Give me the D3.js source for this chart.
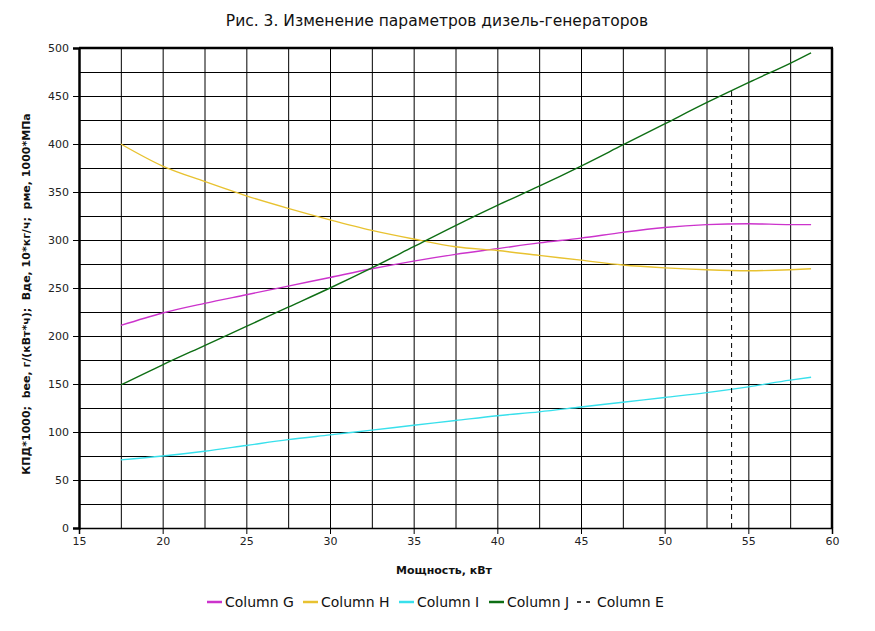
<!DOCTYPE html>
<html><head><meta charset="utf-8">
<script src="https://cdn.jsdelivr.net/npm/d3@7"></script>
<style>body{margin:0;background:#fff;}svg{display:block;font-family:"DejaVu Sans",sans-serif;}</style>
</head><body>
<svg id="chart" width="875" height="631"></svg>
<script>
const title = "Рис. 3. Изменение параметров дизель-генераторов";
const xLabel = "Мощность, кВт";
const yLabel = "КПД*1000;  bee, г/(кВт*ч);  Вде, 10*кг/ч;  рме, 1000*МПа";
const power = [17.5, 20, 22.5, 25, 27.5, 30, 32.5, 35, 37.5, 40, 42.5, 45, 47.5, 50, 52.5, 55, 57.5, 58.75];
const columnG = [211, 224, 234, 243, 252, 261, 270, 278, 285, 291, 297, 302, 308, 313, 316, 317, 316, 316];
const columnH = [400, 377, 361, 346, 333, 321, 310, 301, 293, 289, 284, 279, 274, 271, 269, 268, 269, 270];
const columnI = [71, 75, 80, 86, 92, 97, 102, 107, 112, 117, 121, 126, 131, 136, 141, 147, 154, 157];
const columnJ = [149, 170, 190, 210, 230, 250, 271, 293, 315, 336, 356, 377, 399, 421, 443, 464, 484, 495];
const columnE_x = [54, 54];
const columnE_y = [0, 455];
const xTicks = [15, 20, 25, 30, 35, 40, 45, 50, 55, 60];
const yTicks = [0, 50, 100, 150, 200, 250, 300, 350, 400, 450, 500];
const xGrid = [17.5, 20, 22.5, 25, 27.5, 30, 32.5, 35, 37.5, 40, 42.5, 45, 47.5, 50, 52.5, 55, 57.5];
const yGrid = [25, 50, 75, 100, 125, 150, 175, 200, 225, 250, 275, 300, 325, 350, 375, 400, 425, 450, 475];
const seriesNames = ["Column G", "Column H", "Column I", "Column J", "Column E"];
const seriesColors = ["#cc33cc", "#e8c230", "#38e0ec", "#0e6e14", "#000000"];

const svg = d3.select("#chart");
const L = 79, R = 832, T = 48, B = 528;
const x = d3.scaleLinear().domain([15, 60]).range([L, R]);
const y = d3.scaleLinear().domain([0, 500]).range([B, T]);

svg.append("text").attr("x", 437).attr("y", 26).attr("text-anchor", "middle")
  .attr("font-size", 15.5).attr("fill", "#111").text(title);

// grid
svg.append("g").selectAll("line").data(xGrid).join("line")
  .attr("x1", d => x(d) + 0.5).attr("x2", d => x(d) + 0.5).attr("y1", T).attr("y2", B)
  .attr("stroke", "#000").attr("stroke-width", 1);
svg.append("g").selectAll("line").data(yGrid).join("line")
  .attr("y1", d => Math.round(y(d)) + 0.5).attr("y2", d => Math.round(y(d)) + 0.5).attr("x1", L).attr("x2", R)
  .attr("stroke", "#000").attr("stroke-width", 1);

// axes
const xAxis = d3.axisBottom(x).tickValues(xTicks).tickSize(6).tickPadding(3);
const gx = svg.append("g").attr("transform", `translate(0,${B})`).call(xAxis);
const yAxis = d3.axisLeft(y).tickValues(yTicks).tickSize(6).tickPadding(4);
const gy = svg.append("g").attr("transform", `translate(${L},0)`).call(yAxis);
[gx, gy].forEach(g => {
  g.selectAll("text").attr("font-size", 11).attr("fill", "#222").attr("font-family", "DejaVu Sans");
  g.selectAll("line").attr("stroke", "#000");
  g.select(".domain").attr("stroke", "#000").attr("stroke-width", 1.5);
});
gy.select(".domain").attr("stroke-width", 2.5);
// frame top / right
svg.append("line").attr("x1", L).attr("x2", R + 1).attr("y1", T).attr("y2", T).attr("stroke", "#000").attr("stroke-width", 2.5);
svg.append("line").attr("x1", R).attr("x2", R).attr("y1", T).attr("y2", B).attr("stroke", "#000").attr("stroke-width", 2.5);

// series
const data = [columnG, columnH, columnI, columnJ];
const line = d3.line().x(d => x(d[0])).y(d => y(d[1])).curve(d3.curveMonotoneX);
data.forEach((vals, i) => {
  svg.append("path").datum(power.map((p, k) => [p, vals[k]]))
    .attr("d", line).attr("fill", "none").attr("stroke", seriesColors[i]).attr("stroke-width", 1.4);
});
svg.append("path").datum(columnE_x.map((p, k) => [p, columnE_y[k]]))
  .attr("d", d3.line().x(d => x(d[0])).y(d => y(d[1])))
  .attr("fill", "none").attr("stroke", "#000").attr("stroke-width", 1).attr("stroke-dasharray", "5,4");

// axis labels
svg.append("text").attr("x", 444).attr("y", 574).attr("text-anchor", "middle")
  .attr("font-size", 11).attr("font-weight", "bold").attr("fill", "#111").text(xLabel);
svg.append("text").attr("transform", "translate(30,294) rotate(-90)").attr("text-anchor", "middle")
  .attr("font-size", 11).attr("font-weight", "bold").attr("fill", "#111")
  .attr("xml:space", "preserve").style("white-space", "pre").text(yLabel);

// legend
const legendX = [207, 303, 399, 489, 577];
const lg = svg.append("g");
seriesNames.forEach((n, i) => {
  const g = lg.append("g").attr("transform", `translate(${legendX[i]},602)`);
  g.append("line").attr("x1", 0).attr("x2", i === 4 ? 13 : 15).attr("y1", 0).attr("y2", 0)
    .attr("stroke", seriesColors[i]).attr("stroke-width", i === 4 ? 1.5 : 2.5)
    .attr("stroke-dasharray", i === 4 ? "4,5" : null);
  g.append("text").attr("x", i === 4 ? 20 : 18).attr("y", 5).attr("font-size", 14).attr("fill", "#111").text(n);
});
</script>
</body></html>
